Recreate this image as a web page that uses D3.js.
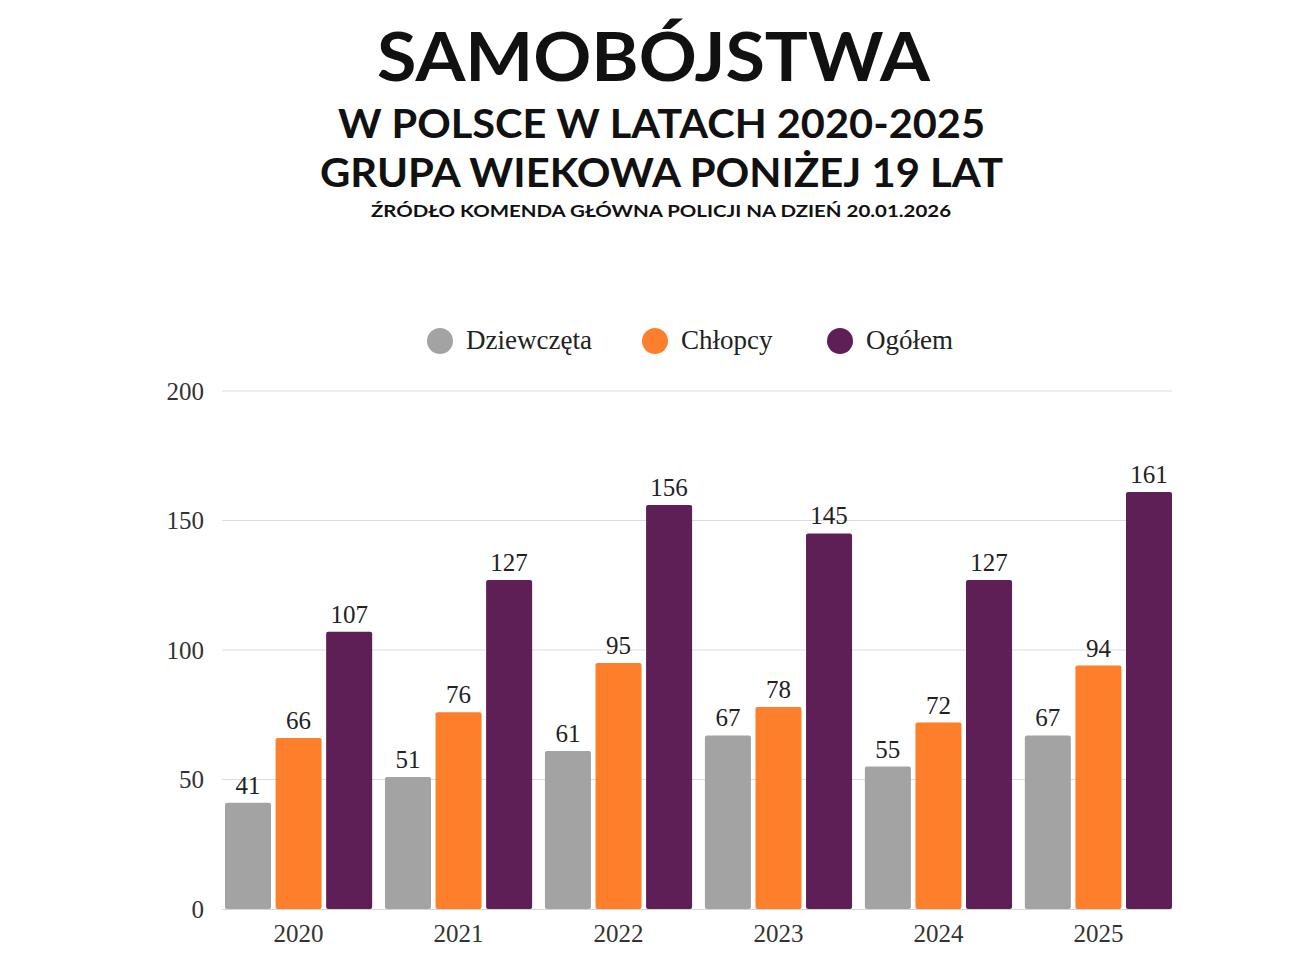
<!DOCTYPE html>
<html><head><meta charset="utf-8">
<script src="https://cdn.jsdelivr.net/npm/d3@7/dist/d3.min.js"></script>
<style>
html,body{margin:0;padding:0;background:#fff;}
svg{display:block;}
</style></head>
<body>
<svg id="chart" width="1305" height="972"></svg>
<script>
const years = ["2020","2021","2022","2023","2024","2025"];
const seriesNames = ["Dziewczęta","Chłopcy","Ogółem"];
const girls = [41,51,61,67,55,67];
const boys = [66,76,95,78,72,94];
const total = [107,127,156,145,127,161];
const yTicks = [0,50,100,150,200];
const colors = ["#a3a3a3","#fd7f2c","#5e1e56"];

const seriesValues = [girls, boys, total];
const svg = d3.select("#chart");
const serif = "'Liberation Serif','DejaVu Serif',serif";
const sans = "Lato,'Open Sans',sans-serif";

// Titles
const titles = [
  {t:"SAMOBÓJSTWA", x:653.5, y:81, size:67, w:553},
  {t:"W POLSCE W LATACH 2020-2025", x:661.5, y:138, size:41, w:647},
  {t:"GRUPA WIEKOWA PONIŻEJ 19 LAT", x:661.5, y:187, size:41, w:683},
  {t:"ŹRÓDŁO KOMENDA GŁÓWNA POLICJI NA DZIEŃ 20.01.2026", x:661, y:217, size:17.5, w:580}
];
titles.forEach(d=>{
  svg.append("text").attr("x",d.x).attr("y",d.y).attr("text-anchor","middle")
    .attr("font-family",sans).attr("font-weight",700).attr("font-size",d.size)
    .attr("fill","#111").attr("textLength",d.w).attr("lengthAdjust","spacingAndGlyphs").text(d.t);
});

// Scales
const x0 = d3.scaleBand().domain(years).range([225,1172]).paddingInner(0.08).paddingOuter(0);
const x1 = d3.scaleBand().domain(seriesNames).range([0,x0.bandwidth()]).paddingInner(0.09).paddingOuter(0);
const y = d3.scaleLinear().domain([0,200]).range([909,391]);

// Grid
svg.append("g").selectAll("line").data(yTicks.filter(v=>v>0)).join("line")
  .attr("x1",222).attr("x2",1172).attr("y1",d=>y(d)).attr("y2",d=>y(d))
  .attr("stroke","#dcdcdc").attr("stroke-width",1);

// Y axis labels
const yAxis = d3.axisLeft(y).tickValues(yTicks).tickSize(0).tickPadding(0);
const ya = svg.append("g").attr("transform","translate(204,0)").call(yAxis);
ya.select(".domain").remove();
ya.selectAll("text").attr("font-family",serif).attr("font-size",25).attr("fill","#333").attr("dy","0.32em");

// X axis
const xAxis = d3.axisBottom(x0).tickSize(0).tickPadding(0);
const xa = svg.append("g").attr("transform","translate(0,934)").call(xAxis);
xa.select(".domain").remove();
xa.selectAll("text").attr("font-family",serif).attr("font-size",25).attr("fill","#333").attr("dy","0.32em");

// Baseline
svg.append("line").attr("x1",222).attr("x2",1172).attr("y1",909.5).attr("y2",909.5).attr("stroke","#d8d8d8");

// Bars
const groups = svg.append("g").selectAll("g").data(years).join("g")
  .attr("transform",d=>`translate(${x0(d)},0)`);
groups.each(function(yr,i){
  const g = d3.select(this);
  seriesNames.forEach((s,j)=>{
    const v = seriesValues[j][i];
    g.append("rect").attr("x",x1(s)).attr("y",y(v)).attr("width",x1.bandwidth())
      .attr("height",y(0)-y(v)).attr("rx",2).attr("fill",colors[j]);
    g.append("text").attr("x",x1(s)+x1.bandwidth()/2).attr("y",y(v)-9)
      .attr("text-anchor","middle").attr("font-family",serif).attr("font-size",25)
      .attr("fill","#222").text(v);
  });
});

// Legend
const legendPos = [440,655,840];
seriesNames.forEach((s,j)=>{
  svg.append("circle").attr("cx",legendPos[j]).attr("cy",341).attr("r",13).attr("fill",colors[j]);
  svg.append("text").attr("x",legendPos[j]+26).attr("y",349).attr("font-family",serif)
    .attr("font-size",27).attr("fill","#222").text(s);
});
</script>
</body></html>
